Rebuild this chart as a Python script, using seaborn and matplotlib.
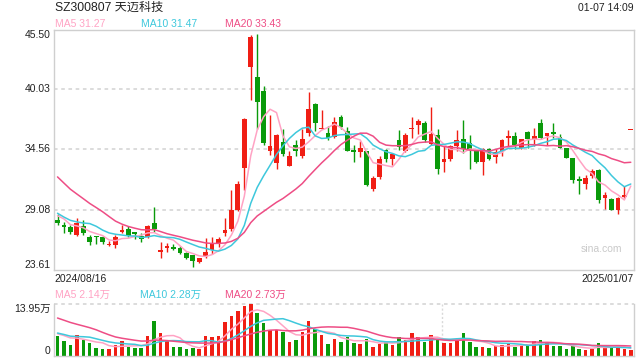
import numpy as np
import pandas as pd
import matplotlib
matplotlib.use('Agg')
import matplotlib.pyplot as plt
import matplotlib.transforms as mtransforms
import seaborn as sns

sns.set_theme(style='white')
plt.rcParams['font.family'] = ['Liberation Sans', 'Noto Sans CJK SC', 'DejaVu Sans']

# ---------------- data ----------------
stock_name = 'SZ300807 天迈科技'
timestamp = '01-07 14:09'
start_date = '2024/08/16'
end_date = '2025/01/07'
price_ticks = [23.61, 29.08, 34.56, 40.03, 45.50]
vol_top = 13.95  # 万
price_ma_labels = ['MA5 31.27', 'MA10 31.47', 'MA20 33.43']
vol_ma_labels = ['MA5 2.14万', 'MA10 2.28万', 'MA20 2.73万']

opens = [28.11, 27.55, 27.47, 26.74, 27.62, 26.59, 26.62, 26.56, 25.80, 25.83,
         27.05, 27.26, 26.95, 26.65, 26.59, 27.81, 25.22, 25.55, 25.60, 25.55,
         25.10, 24.89, 24.28, 24.82, 25.43, 25.92, 26.92, 27.29, 29.08, 32.85,
         42.10, 41.21, 39.85, 34.40, 33.30, 35.22, 33.03, 34.92, 33.94, 36.08,
         38.66, 36.40, 36.08, 35.71, 37.54, 36.22, 34.40, 34.31, 34.46, 30.97,
         32.07, 34.49, 33.71, 35.38, 34.40, 36.40, 36.81, 36.99, 35.08, 35.92,
         33.40, 33.73, 34.86, 35.47, 35.17, 34.49, 33.40, 34.56, 33.85, 34.40,
         35.56, 35.83, 34.71, 36.13, 35.53, 36.99, 35.77, 36.05, 35.68, 34.71,
         33.80, 31.78, 31.45, 32.12, 32.73, 30.09, 30.06, 29.02, 30.20, 36.29]
highs = [28.63, 27.92, 27.71, 28.33, 28.17, 26.80, 26.71, 26.71, 26.19, 26.80,
         27.71, 27.56, 27.05, 26.96, 27.71, 29.29, 26.16, 26.04, 25.92, 25.77,
         25.25, 24.95, 24.70, 26.46, 26.53, 26.53, 28.35, 30.88, 31.64, 37.47,
         45.02, 45.07, 40.36, 37.72, 35.95, 36.38, 34.46, 35.40, 36.38, 39.78,
         38.81, 38.20, 36.74, 37.50, 37.66, 36.63, 34.92, 35.31, 34.46, 32.12,
         33.94, 34.62, 34.25, 36.29, 36.08, 37.50, 37.35, 37.14, 38.41, 36.44,
         34.86, 35.01, 36.29, 37.29, 35.92, 34.49, 34.65, 34.71, 34.56, 35.53,
         36.29, 36.17, 35.47, 36.22, 36.53, 37.35, 36.08, 36.99, 36.01, 34.71,
         33.80, 32.18, 32.21, 32.79, 32.79, 30.66, 30.15, 30.24, 31.27, 36.29]
lows = [27.71, 26.96, 26.89, 26.65, 26.77, 25.83, 25.95, 25.98, 25.73, 25.59,
        26.96, 26.59, 26.41, 26.16, 26.46, 27.01, 24.68, 25.19, 25.37, 25.00,
        24.55, 23.86, 24.22, 24.64, 25.00, 25.62, 26.68, 27.08, 28.96, 30.84,
        39.05, 36.41, 34.98, 34.07, 32.76, 33.94, 33.03, 33.94, 33.80, 35.77,
        36.22, 36.38, 35.40, 35.62, 36.38, 34.40, 33.40, 33.89, 31.21, 30.75,
        31.88, 33.40, 33.10, 34.49, 34.31, 35.62, 36.00, 35.22, 34.98, 32.34,
        32.48, 33.52, 34.40, 34.20, 32.82, 33.34, 32.21, 33.64, 33.34, 33.94,
        34.86, 34.62, 34.62, 34.65, 34.86, 35.47, 35.01, 35.62, 34.71, 33.80,
        31.52, 30.54, 30.99, 31.97, 29.69, 29.17, 29.02, 28.69, 30.15, 36.29]
closes = [27.81, 27.50, 27.01, 27.81, 26.96, 26.10, 26.55, 26.10, 25.82, 26.59,
          27.10, 26.71, 26.89, 26.41, 27.62, 27.26, 25.34, 25.71, 25.50, 25.10,
          24.64, 24.40, 24.64, 25.19, 25.98, 26.37, 27.17, 29.08, 31.45, 37.38,
          44.86, 38.87, 35.19, 34.83, 35.86, 34.19, 33.94, 34.40, 35.47, 38.27,
          36.99, 36.47, 35.62, 37.05, 36.63, 34.40, 34.34, 34.71, 31.36, 31.97,
          33.71, 33.71, 34.10, 34.80, 35.92, 36.47, 37.20, 35.40, 36.01, 32.82,
          33.73, 34.86, 35.38, 34.56, 34.49, 33.40, 34.56, 33.73, 34.31, 35.38,
          35.83, 35.01, 35.47, 35.47, 35.77, 35.62, 36.08, 35.98, 34.71, 33.80,
          31.75, 31.72, 31.97, 32.58, 29.93, 30.36, 29.08, 30.15, 30.24, 36.29]
volumes = [5.45, 4.09, 3.00, 5.72, 4.36, 3.63, 2.18, 1.91, 1.91, 3.00,
           4.09, 2.54, 2.18, 2.18, 5.45, 9.53, 6.08, 4.09, 2.45, 2.45,
           1.91, 2.18, 2.00, 5.36, 5.18, 5.36, 9.26, 10.90, 12.26, 13.62,
           13.95, 11.53, 8.81, 6.99, 6.99, 6.36, 3.90, 4.45, 6.36, 9.53,
           7.26, 5.72, 3.36, 4.72, 3.81, 5.18, 3.54, 3.36, 4.72, 2.45,
           3.36, 3.90, 3.00, 5.18, 4.45, 6.09, 5.18, 3.90, 5.72, 4.45,
           3.63, 3.63, 4.27, 6.27, 3.81, 2.45, 2.45, 2.18, 2.72, 3.00,
           3.36, 2.45, 2.90, 3.36, 4.09, 4.36, 3.81, 2.72, 2.72, 2.00,
           2.72, 2.00, 1.63, 2.00, 3.54, 2.27, 2.27, 2.27, 2.00, 1.63]
# closes / volumes of the 19 sessions before the window (needed for the MAs)
prior_closes = [38.8, 38.2, 36.5, 35.5, 34.8, 34.0, 33.8, 34.5, 35.0, 32.6,
                31.0, 30.0, 29.2, 28.0, 26.6, 29.0, 29.6, 28.4, 27.8]
prior_volumes = [16.0, 15.0, 15.5, 13.5, 13.0, 13.5, 16.0, 15.0, 14.5, 11.0,
                 8.0, 7.5, 6.7, 4.9, 4.85, 6.5, 6.2, 6.0, 5.85]

# ---------------- styling ----------------
RED = '#f01e14'
GREEN = '#0a9a0a'
MA_COLORS = ['#ffa3c4', '#3ec8dc', '#ee4d85']
GRID = '#d9d9d9'
BORDER = '#cfcfcf'
TXT = '#222222'
FS = 7.5

n = len(closes)
df = pd.DataFrame({'i': np.arange(n), 'open': opens, 'high': highs,
                   'low': lows, 'close': closes, 'vol': volumes})
up = df['close'] >= df['open']
colors = np.where(up, RED, GREEN)

all_close = pd.Series(prior_closes + closes)
all_vol = pd.Series(prior_volumes + volumes)
np_ = len(prior_closes)
for w in (5, 10, 20):
    df[f'ma{w}'] = all_close.rolling(w).mean().iloc[np_:].to_numpy()
    df[f'vma{w}'] = all_vol.rolling(w).mean().iloc[np_:].to_numpy()

W, H = 640, 360
fig = plt.figure(figsize=(6.4, 3.6), dpi=100)
L, R = 54.3, 634.0
ax = fig.add_axes([L / W, 1 - 269.5 / H, (R - L) / W, (269.5 - 29.5) / H])
axv = fig.add_axes([L / W, 1 - 356.0 / H, (R - L) / W, (356.0 - 304.3) / H])

# ---- candles ----
ax.vlines(df['i'], df['low'], df['high'], colors=colors, linewidth=1.0, zorder=2)
body_lo = np.minimum(df['open'], df['close'])
body_h = np.maximum(np.abs(df['close'] - df['open']), 0.16)
ax.bar(df['i'], body_h, bottom=body_lo, width=0.74, color=colors,
       linewidth=0, zorder=3)

for w, c in zip((5, 10, 20), MA_COLORS):
    sns.lineplot(data=df, x='i', y=f'ma{w}', ax=ax, color=c, linewidth=1.1,
                 zorder=4, legend=False)

ax.set_xlim(-0.5, n - 0.5)
ax.set_ylim(price_ticks[0], price_ticks[-1])
for v in price_ticks[1:-1]:
    ax.axhline(v, color=GRID, linestyle=(0, (2, 2)), linewidth=1.3, zorder=1)
ax.set_xticks([])
ax.set_yticks([])
ax.set_xlabel('')
ax.set_ylabel('')
for s in ax.spines.values():
    s.set_color(BORDER)
    s.set_linewidth(1.0)

trans = mtransforms.blended_transform_factory(ax.transAxes, ax.transData)
for k, v in enumerate(price_ticks):
    va = 'bottom' if k == 0 else ('top' if k == len(price_ticks) - 1 else 'center')
    ax.text(-0.006, v, f'{v:.2f}', transform=trans, ha='right', va=va,
            fontsize=FS, color=TXT)

ax.text(0.0, -0.018, start_date, transform=ax.transAxes, ha='left', va='top',
        fontsize=FS, color=TXT)
ax.text(1.0, -0.018, end_date, transform=ax.transAxes, ha='right', va='top',
        fontsize=FS, color=TXT)
ax.text(0.98, 0.085, 'sina.com', transform=ax.transAxes, ha='right',
        va='center', fontsize=7.5, color='#c9c9c9')

# ---- volume ----
axv.bar(df['i'], df['vol'], width=0.55, color=colors, linewidth=0, zorder=2)
for w, c in zip((5, 10, 20), MA_COLORS):
    sns.lineplot(data=df, x='i', y=f'vma{w}', ax=axv, color=c, linewidth=1.1,
                 zorder=3, legend=False)
axv.set_xlim(-0.5, n - 0.5)
axv.set_ylim(0, vol_top)
axv.set_xticks([])
axv.set_yticks([])
axv.set_xlabel('')
axv.set_ylabel('')
for s in axv.spines.values():
    s.set_color(BORDER)
    s.set_linewidth(1.0)
axv.spines['top'].set_visible(False)
axv.axhline(vol_top, color=GRID, linestyle=(0, (2, 2)), linewidth=1.3,
            zorder=1, clip_on=False)
axv.axvline(59.65, color=GRID, linestyle=(0, (1.5, 1.5)), linewidth=1.0, zorder=1)
transv = mtransforms.blended_transform_factory(axv.transAxes, axv.transData)
axv.text(-0.006, vol_top, f'{vol_top:.2f}万', transform=transv, ha='right',
         va='top', fontsize=FS, color=TXT)
axv.text(-0.006, 0, '0', transform=transv, ha='right', va='bottom',
         fontsize=FS, color=TXT)

# ---- header texts ----
fig.text(55 / W, 1 - 7.5 / H, stock_name, ha='left', va='center',
         fontsize=8.7, color=TXT)
fig.text(634 / W, 1 - 7.7 / H, timestamp, ha='right', va='center',
         fontsize=FS, color=TXT)
for lab, x0, c in zip(price_ma_labels, (55.3, 140.7, 225.3), MA_COLORS):
    fig.text(x0 / W, 1 - 23.8 / H, lab, ha='left', va='center',
             fontsize=FS, color=c)
for lab, x0, c in zip(vol_ma_labels, (55.3, 140.0, 225.3), MA_COLORS):
    fig.text(x0 / W, 1 - 294.8 / H, lab, ha='left', va='center',
             fontsize=FS, color=c)

fig.savefig('out.png', dpi=100, facecolor='white')
